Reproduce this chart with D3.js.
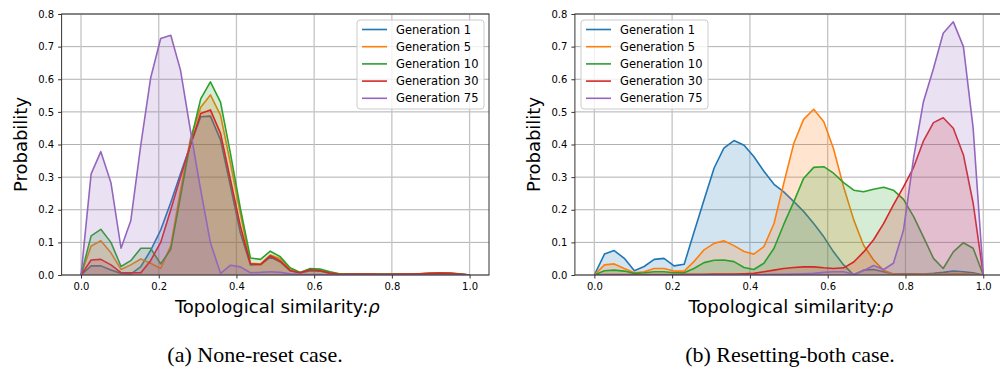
<!DOCTYPE html>
<html><head><meta charset="utf-8">
<script src="https://cdn.jsdelivr.net/npm/d3@7"></script>
<style>
body{margin:0;background:#fff}
svg{display:block}
text{font-family:"DejaVu Sans",sans-serif;fill:#000}
</style>
</head><body>
<svg id="c" width="1000" height="370"></svg>
<script>
// ---------- data ----------
const rho = [0.000,0.026,0.051,0.077,0.103,0.128,0.154,0.179,0.205,0.231,
             0.256,0.282,0.308,0.333,0.359,0.385,0.410,0.436,0.462,0.487,
             0.513,0.538,0.564,0.590,0.615,0.641,0.667,0.692,0.718,0.744,
             0.769,0.795,0.821,0.846,0.872,0.897,0.923,0.949,0.974,1.000];

const seriesNames = ["Generation 1","Generation 5","Generation 10","Generation 30","Generation 75"];
const seriesColors = ["#1f77b4","#ff7f0e","#2ca02c","#d62728","#9467bd"];

// (a) None-reset case
const noneGen1  = [0,0.028,0.028,0.015,0.005,0.003,0.026,0.075,0.138,0.222,0.31,0.40,0.485,0.487,0.414,0.27,0.13,0.031,0.032,0.055,0.04,0.013,0.006,0.013,0.012,0.005,0.002,0.002,0.003,0.003,0.002,0.002,0.002,0.002,0.003,0.004,0.004,0.004,0.003,0];
const noneGen5  = [0,0.089,0.105,0.068,0.017,0.031,0.049,0.036,0.02,0.09,0.26,0.42,0.514,0.552,0.49,0.34,0.19,0.036,0.034,0.061,0.05,0.02,0.008,0.017,0.015,0.008,0.003,0.003,0.003,0.003,0.003,0.003,0.003,0.003,0.004,0.005,0.006,0.005,0.003,0];
const noneGen10 = [0,0.12,0.14,0.10,0.026,0.044,0.082,0.082,0.034,0.079,0.24,0.41,0.54,0.592,0.53,0.37,0.205,0.052,0.048,0.073,0.056,0.022,0.008,0.02,0.018,0.01,0.003,0.004,0.004,0.003,0.003,0.003,0.003,0.003,0.004,0.005,0.006,0.006,0.004,0];
const noneGen30 = [0,0.046,0.048,0.031,0.007,0.007,0.007,0.044,0.10,0.20,0.30,0.40,0.495,0.506,0.434,0.29,0.15,0.034,0.032,0.059,0.043,0.014,0.007,0.016,0.013,0.006,0.002,0.003,0.003,0.003,0.002,0.002,0.003,0.003,0.004,0.005,0.006,0.005,0.003,0];
const noneGen75 = [0,0.31,0.378,0.283,0.082,0.166,0.40,0.603,0.725,0.735,0.628,0.44,0.26,0.099,0.005,0.03,0.025,0.007,0.008,0.01,0.008,0.004,0.002,0.001,0.001,0,0,0,0,0,0,0,0,0,0,0,0,0,0,0];

// (b) Resetting-both case
const resetGen1  = [0,0.064,0.075,0.051,0.013,0.026,0.048,0.051,0.028,0.033,0.13,0.23,0.328,0.389,0.412,0.398,0.363,0.318,0.278,0.255,0.225,0.195,0.158,0.117,0.071,0.031,0,0.015,0.017,0.01,0.003,0.004,0.004,0.003,0.005,0.008,0.012,0.01,0.007,0];
const resetGen5  = [0,0.031,0.034,0.02,0.007,0.01,0.02,0.02,0.012,0.012,0.041,0.077,0.097,0.105,0.09,0.072,0.064,0.087,0.158,0.281,0.404,0.477,0.508,0.47,0.387,0.27,0.169,0.092,0.046,0.014,0.003,0.002,0.002,0.002,0.002,0.003,0.004,0.004,0.003,0];
const resetGen10 = [0,0.013,0.015,0.012,0.005,0.007,0.01,0.01,0.007,0.007,0.02,0.038,0.045,0.046,0.041,0.023,0.017,0.036,0.082,0.155,0.225,0.296,0.33,0.332,0.312,0.283,0.26,0.255,0.263,0.269,0.26,0.232,0.179,0.117,0.051,0.02,0.071,0.099,0.082,0];
const resetGen30 = [0,0.001,0.001,0.001,0.001,0.001,0.001,0.001,0.001,0.002,0.002,0.002,0.003,0.003,0.003,0.004,0.005,0.01,0.015,0.02,0.023,0.025,0.025,0.022,0.02,0.022,0.04,0.07,0.108,0.158,0.215,0.27,0.33,0.41,0.467,0.482,0.45,0.368,0.22,0];
const resetGen75 = [0,0,0,0,0,0,0,0,0,0,0,0,0,0,0,0,0,0.001,0.002,0.002,0.003,0.004,0.005,0.008,0.01,0.01,0.002,0.013,0.029,0.017,0.036,0.138,0.36,0.53,0.633,0.741,0.776,0.70,0.45,0];

const xTickValues = [0,0.2,0.4,0.6,0.8,1.0];
const yTickValues = [0,0.1,0.2,0.3,0.4,0.5,0.6,0.7,0.8];
const xLabel = "Topological similarity:";
const xLabelSym = "ρ";
const yLabel = "Probability";
const captionA = "(a) None-reset case.";
const captionB = "(b) Resetting-both case.";

// ---------- drawing ----------
const svg = d3.select("#c");

function drawPanel(cfg) {
  const x = d3.scaleLinear().domain([-0.05, 1.05]).range([cfg.left, cfg.right]);
  const y = d3.scaleLinear().domain([0, 0.8]).range([275, 14]);
  const g = svg.append("g");
  const clipId = "clip" + cfg.id;
  svg.append("defs").append("clipPath").attr("id", clipId)
    .append("rect").attr("x", cfg.left).attr("y", 14)
    .attr("width", cfg.right - cfg.left).attr("height", 261);

  // grid
  g.append("g").selectAll("line").data(yTickValues).join("line")
    .attr("x1", cfg.left).attr("x2", cfg.right)
    .attr("y1", d => y(d)).attr("y2", d => y(d))
    .attr("stroke", "#b0b0b0").attr("stroke-width", 1);
  g.append("g").selectAll("line").data(xTickValues).join("line")
    .attr("x1", d => x(d)).attr("x2", d => x(d))
    .attr("y1", 14).attr("y2", 275)
    .attr("stroke", "#c4c4c4").attr("stroke-width", 1.3);

  const plot = g.append("g").attr("clip-path", `url(#${clipId})`);
  const area = d3.area().x((d, i) => x(rho[i])).y0(y(0)).y1(d => y(d));
  const line = d3.line().x((d, i) => x(rho[i])).y(d => y(d));
  cfg.series.forEach((vals, k) => {
    plot.append("path").attr("d", area(vals))
      .attr("fill", seriesColors[k]).attr("fill-opacity", 0.2);
    plot.append("path").attr("d", line(vals))
      .attr("fill", "none").attr("stroke", seriesColors[k])
      .attr("stroke-width", 1.6).attr("stroke-linejoin", "round");
  });

  // axes
  const xa = g.append("g").attr("transform", "translate(0,275)")
    .call(d3.axisBottom(x).tickValues(xTickValues).tickFormat(d3.format(".1f"))
      .tickSize(3.5).tickPadding(4));
  const ya = g.append("g").attr("transform", `translate(${cfg.left},0)`)
    .call(d3.axisLeft(y).tickValues(yTickValues).tickFormat(d3.format(".1f"))
      .tickSize(3.5).tickPadding(4));
  [xa, ya].forEach(a => {
    a.select(".domain").remove();
    a.selectAll("line").attr("stroke", "#333");
    a.selectAll("text").attr("font-size", 10).attr("font-family", "DejaVu Sans").attr("fill", "#000");
  });

  // spines
  g.append("rect").attr("x", cfg.left).attr("y", 14)
    .attr("width", cfg.right - cfg.left).attr("height", 261)
    .attr("fill", "none").attr("stroke", "#333").attr("stroke-width", 1);

  // axis labels
  const cx = (x(0) + x(1)) / 2;
  const xl = g.append("text").attr("x", cx + 2).attr("y", 313)
    .attr("text-anchor", "middle").attr("font-size", 18);
  xl.append("tspan").text(xLabel);
  xl.append("tspan").attr("font-style", "italic").text(xLabelSym);
  g.append("text").attr("transform", `translate(${cfg.left - 35},${y(0.4)}) rotate(-90)`)
    .attr("text-anchor", "middle").attr("font-size", 18).text(yLabel);

  // caption
  g.append("text").attr("x", cfg.capX).attr("y", 362)
    .attr("text-anchor", "middle").attr("font-size", 22)
    .attr("style", "font-family:'Liberation Serif',serif")
    .text(cfg.caption);

  // legend
  const lx = cfg.legendX, ly = 20, lw = 127, lh = 89;
  const lg = g.append("g");
  lg.append("rect").attr("x", lx).attr("y", ly).attr("width", lw).attr("height", lh)
    .attr("rx", 3).attr("fill", "#fff").attr("fill-opacity", 0.8)
    .attr("stroke", "#cccccc").attr("stroke-width", 1);
  seriesNames.forEach((nm, k) => {
    const yy = ly + 9.5 + k * 17.2;
    lg.append("line").attr("x1", lx + 5).attr("x2", lx + 30)
      .attr("y1", yy).attr("y2", yy)
      .attr("stroke", seriesColors[k]).attr("stroke-width", 1.6);
    lg.append("text").attr("x", lx + 39).attr("y", yy + 4)
      .attr("font-size", 11.5).text(nm);
  });
}

drawPanel({id: "a", left: 61.6, right: 489, legendX: 357, capX: 255, caption: captionA,
  series: [noneGen1, noneGen5, noneGen10, noneGen30, noneGen75]});
drawPanel({id: "b", left: 574.9, right: 1002.7, legendX: 581, capX: 790, caption: captionB,
  series: [resetGen1, resetGen5, resetGen10, resetGen30, resetGen75]});
</script>
</body></html>
